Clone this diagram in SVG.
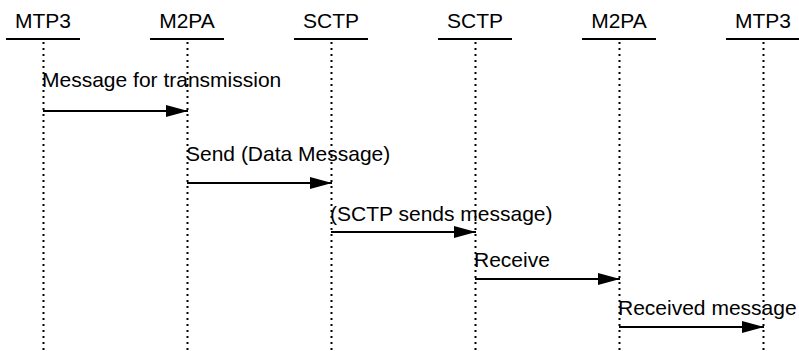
<svg xmlns="http://www.w3.org/2000/svg" width="799" height="351" viewBox="0 0 799 351">
<defs>
<style>
text{font-family:"Liberation Sans",Arial,sans-serif;font-size:21px;fill:#000}
.hd{text-anchor:middle}
.bar{stroke:#000;stroke-width:2}
.life{stroke:#000;stroke-width:2;stroke-dasharray:2 4}
.msg{stroke:#000;stroke-width:2;fill:none;marker-end:url(#ah)}
</style>
<marker id="ah" markerUnits="userSpaceOnUse" markerWidth="24" markerHeight="14" refX="22" refY="6" orient="auto">
<path d="M0,0 L22,6 L0,12 Z" fill="#000"/>
</marker>
</defs>
<rect width="799" height="351" fill="#fff"/>
<g id="n1"><text class="hd" x="43" y="28">MTP3</text><line class="bar" x1="6" y1="39" x2="80" y2="39"/><line class="life" x1="43.5" y1="42" x2="43.5" y2="351"/></g>
<g id="n2"><text class="hd" x="187" y="28">M2PA</text><line class="bar" x1="150" y1="39" x2="224" y2="39"/><line class="life" x1="187.5" y1="42" x2="187.5" y2="351"/></g>
<g id="n3"><text class="hd" x="331" y="28">SCTP</text><line class="bar" x1="294" y1="39" x2="368" y2="39"/><line class="life" x1="331.5" y1="42" x2="331.5" y2="351"/></g>
<g id="n4"><text class="hd" x="475" y="28">SCTP</text><line class="bar" x1="438" y1="39" x2="512" y2="39"/><line class="life" x1="475.5" y1="42" x2="475.5" y2="351"/></g>
<g id="n5"><text class="hd" x="619" y="28">M2PA</text><line class="bar" x1="582" y1="39" x2="656" y2="39"/><line class="life" x1="619.5" y1="42" x2="619.5" y2="351"/></g>
<g id="n6"><text class="hd" x="763" y="28">MTP3</text><line class="bar" x1="726" y1="39" x2="800" y2="39"/><line class="life" x1="763.5" y1="42" x2="763.5" y2="351"/></g>
<g id="connectors">
<line class="msg" x1="43" y1="111" x2="188" y2="111"/>
<text x="42" y="87">Message for transmission</text>
<line class="msg" x1="187" y1="183" x2="332" y2="183"/>
<text x="186" y="161">Send (Data Message)</text>
<line class="msg" x1="331" y1="232" x2="476" y2="232"/>
<text x="330" y="221">(SCTP sends message)</text>
<line class="msg" x1="475" y1="279" x2="620" y2="279"/>
<text x="474" y="267">Receive</text>
<line class="msg" x1="619" y1="327" x2="764" y2="327"/>
<text x="618" y="315">Received message</text>
</g>
</svg>
